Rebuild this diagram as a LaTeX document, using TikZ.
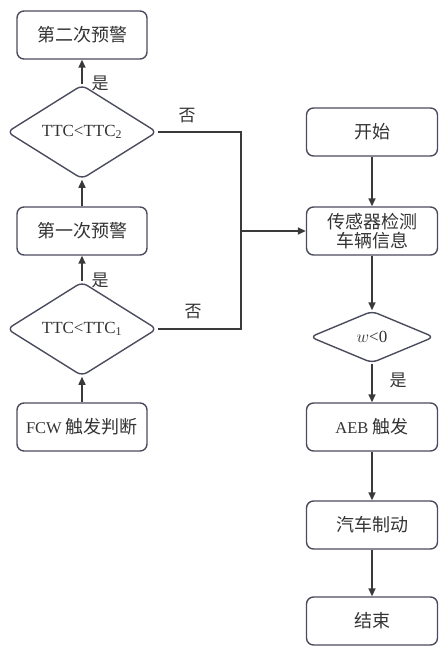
\documentclass[tikz,border=0pt]{standalone}
\usepackage{fontspec}
\setmainfont{Liberation Serif}
\newfontfamily\cjk{Noto Sans CJK SC}
\newcommand\zh{\cjk\fontsize{18}{19}\selectfont}
\usetikzlibrary{shapes.geometric,arrows.meta}
\definecolor{edge}{HTML}{4A4C5E}
\definecolor{wire}{HTML}{3A3A3A}
\definecolor{ink}{HTML}{333333}
\begin{document}
\begin{tikzpicture}[x=1pt,y=-1pt,
  box/.style={draw=edge,line width=1.4pt,rounded corners=7pt,minimum width=130pt,minimum height=48pt,inner sep=0pt,text=ink,align=center,
    font=\fontsize{16.5}{19}\selectfont},
  dia/.style={draw=edge,line width=1.4pt,diamond,rounded corners=6pt,inner sep=0pt,text=ink,
    font=\fontsize{17}{19}\selectfont},
  wire/.style={draw=wire,line width=1.5pt},
  arr/.style={wire,-{Triangle[length=8pt,width=7pt]}},
  lab/.style={text=ink,font=\cjk\fontsize{17}{18}\selectfont,inner sep=0pt}]
\useasboundingbox (0,0) rectangle (440,647);
% left column
\node[box] (w2) at (82,35) {\zh 第二次预警};
\node[dia,minimum width=150pt,minimum height=69pt] (d2) at (82,132) {TTC<TTC\textsubscript{2}};
\node[box] (w1) at (82,231) {\zh 第一次预警};
\node[dia,minimum width=150pt,minimum height=72pt] (d1) at (82,329) {TTC<TTC\textsubscript{1}};
\node[box] (fcw) at (82,427) {FCW {\zh 触发判断}};
% right column
\node[box,minimum width=131pt] (start) at (372,132) {\zh 开始};
\node[box,minimum width=131pt] (sense) at (372,231) {\zh 传感器检测\\\zh 车辆信息};
\node[dia,minimum width=124pt,minimum height=52pt] (dw) at (372,337) {$w$<0};
\node[box,minimum width=131pt] (aeb) at (372,427) {AEB {\zh 触发}};
\node[box,minimum width=131pt] (brake) at (372,525) {\zh 汽车制动};
\node[box,minimum width=131pt] (end) at (372,621) {\zh 结束};
% junction
\coordinate (jt) at (241,132);
\coordinate (jb) at (241,329);
\coordinate (jm) at (241,231);
% connectors
\draw[arr] (fcw) -- (d1);
\draw[arr] (d1) -- (w1);
\draw[arr] (w1) -- (d2);
\draw[arr] (d2) -- (w2);
\draw[wire] (d2.east) -- (jt) -- (jb) -- (d1.east);
\draw[arr] (jm) -- (sense.west);
\draw[arr] (start) -- (sense);
\draw[arr] (sense) -- (dw);
\draw[arr] (dw) -- (aeb);
\draw[arr] (aeb) -- (brake);
\draw[arr] (brake) -- (end);
% labels
\node[lab] (y2) at (100,83) {是};
\node[lab] (y1) at (100,280) {是};
\node[lab] (y3) at (398,380) {是};
\node[lab] (n2) at (187,116) {否};
\node[lab] (n1) at (193,312) {否};
\end{tikzpicture}
\end{document}
